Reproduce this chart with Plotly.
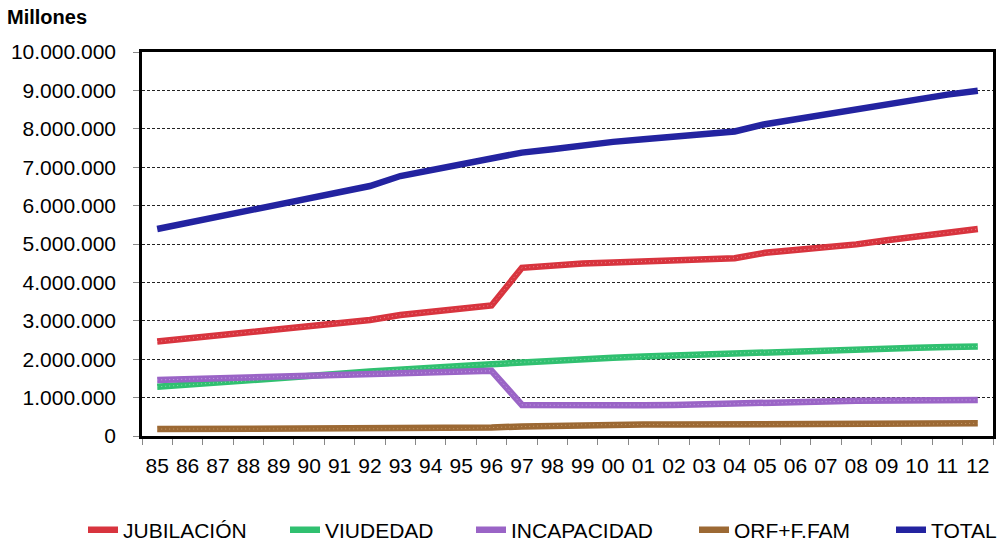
import plotly.graph_objects as go

years = ["85", "86", "87", "88", "89", "90", "91", "92", "93", "94", "95", "96", "97", "98",
         "99", "00", "01", "02", "03", "04", "05", "06", "07", "08", "09", "10", "11", "12"]

jubilacion = [2.46, 2.54, 2.62, 2.70, 2.78, 2.86, 2.94, 3.02, 3.15, 3.23, 3.32, 3.40, 4.38, 4.45,
              4.49, 4.52, 4.55, 4.58, 4.61, 4.63, 4.77, 4.84, 4.90, 4.99, 5.10, 5.21, 5.29, 5.39]
viudedad = [1.28, 1.33, 1.38, 1.44, 1.50, 1.56, 1.62, 1.68, 1.74, 1.78, 1.82, 1.87, 1.92, 1.96,
            2.00, 2.04, 2.07, 2.10, 2.13, 2.16, 2.19, 2.21, 2.24, 2.26, 2.28, 2.30, 2.32, 2.33]
incapacidad = [1.46, 1.48, 1.50, 1.52, 1.54, 1.56, 1.58, 1.60, 1.62, 1.64, 1.67, 1.70, 0.81, 0.80,
               0.80, 0.80, 0.80, 0.81, 0.82, 0.84, 0.86, 0.88, 0.90, 0.92, 0.93, 0.93, 0.94, 0.94]
orf_ffam = [0.18, 0.18, 0.18, 0.18, 0.18, 0.18, 0.18, 0.18, 0.19, 0.19, 0.19, 0.22, 0.25, 0.27,
            0.29, 0.30, 0.30, 0.30, 0.30, 0.30, 0.30, 0.30, 0.30, 0.30, 0.31, 0.31, 0.32, 0.33]
total = [5.39, 5.55, 5.71, 5.87, 6.03, 6.19, 6.35, 6.51, 6.77, 6.93, 7.06, 7.25, 7.38, 7.47,
         7.58, 7.66, 7.73, 7.81, 7.86, 7.93, 8.12, 8.25, 8.37, 8.51, 8.65, 8.78, 8.89, 8.99]

series_names = ["JUBILACIÓN", "VIUDEDAD", "INCAPACIDAD", "ORF+F.FAM", "TOTAL"]
series_values = [jubilacion, viudedad, incapacidad, orf_ffam, total]
colors = ["#d8343e", "#30c070", "#9a64c6", "#9c6934", "#2323a0"]
dot_colors = ["#ea8a90", "#8fdcb0", "#c8a6e4", "#c89c6c", None]

y_ticks = [i * 1_000_000 for i in range(11)]

# left edge (px) of each legend entry box
legend_left = [83, 285, 471, 694, 891]

fig = go.Figure()
layout_legends = {}
for i, (name, vals, col, dcol) in enumerate(zip(series_names, series_values, colors, dot_colors)):
    lg = "legend" if i == 0 else f"legend{i + 1}"
    yv = [v * 1_000_000 for v in vals]
    fig.add_trace(go.Scatter(x=years, y=yv, mode="lines", name=name, legend=lg,
                             line=dict(color=col, width=6.5), hoverinfo="skip"))
    if dcol:
        fig.add_trace(go.Scatter(x=years, y=yv, mode="lines", showlegend=False,
                                 line=dict(color=dcol, width=1, dash="1px,3px"),
                                 hoverinfo="skip"))
    layout_legends[lg] = dict(orientation="h", xref="container", yref="container",
                              x=legend_left[i] / 1004, y=1 - 530 / 542,
                              xanchor="left", yanchor="middle",
                              font=dict(size=21), bgcolor="rgba(0,0,0,0)")

fig.update_layout(
    width=1004, height=542,
    margin=dict(l=142, r=11, t=52, b=106, autoexpand=False),
    paper_bgcolor="white", plot_bgcolor="white",
    separators=",.",
    font=dict(family="Liberation Sans, Arial, sans-serif", size=21, color="black"),
    showlegend=True,
    title=dict(text="<b>Millones</b>", xref="container", yref="container",
               x=7 / 1004, y=1 - 10 / 542, xanchor="left", yanchor="top",
               pad=dict(t=0, b=0, l=0, r=0),
               font=dict(size=20, color="black")),
    **layout_legends,
)

fig.update_xaxes(type="category", range=[-0.5, 27.5], tickson="boundaries",
                 ticks="outside", ticklen=6, tickcolor="#888", automargin=False,
                 tickangle=0,
                 showgrid=False, showline=True, linecolor="black",
                 linewidth=2.5, mirror=True, ticklabelstandoff=9,
                 tickfont=dict(size=21))
fig.update_yaxes(range=[0, 10_000_000], tickvals=y_ticks, tickformat=",d",
                 ticks="outside", ticklen=6, tickcolor="#888", automargin=False,
                 showgrid=True, gridcolor="#222", griddash="3px,2px", gridwidth=1,
                 showline=True, linecolor="black", linewidth=2.5, mirror=True,
                 zeroline=False, ticklabelstandoff=13, tickfont=dict(size=21))

fig.write_html("out.html", config={"displayModeBar": False},
               post_script="document.body.style.margin='0';document.body.style.overflow='hidden';")
